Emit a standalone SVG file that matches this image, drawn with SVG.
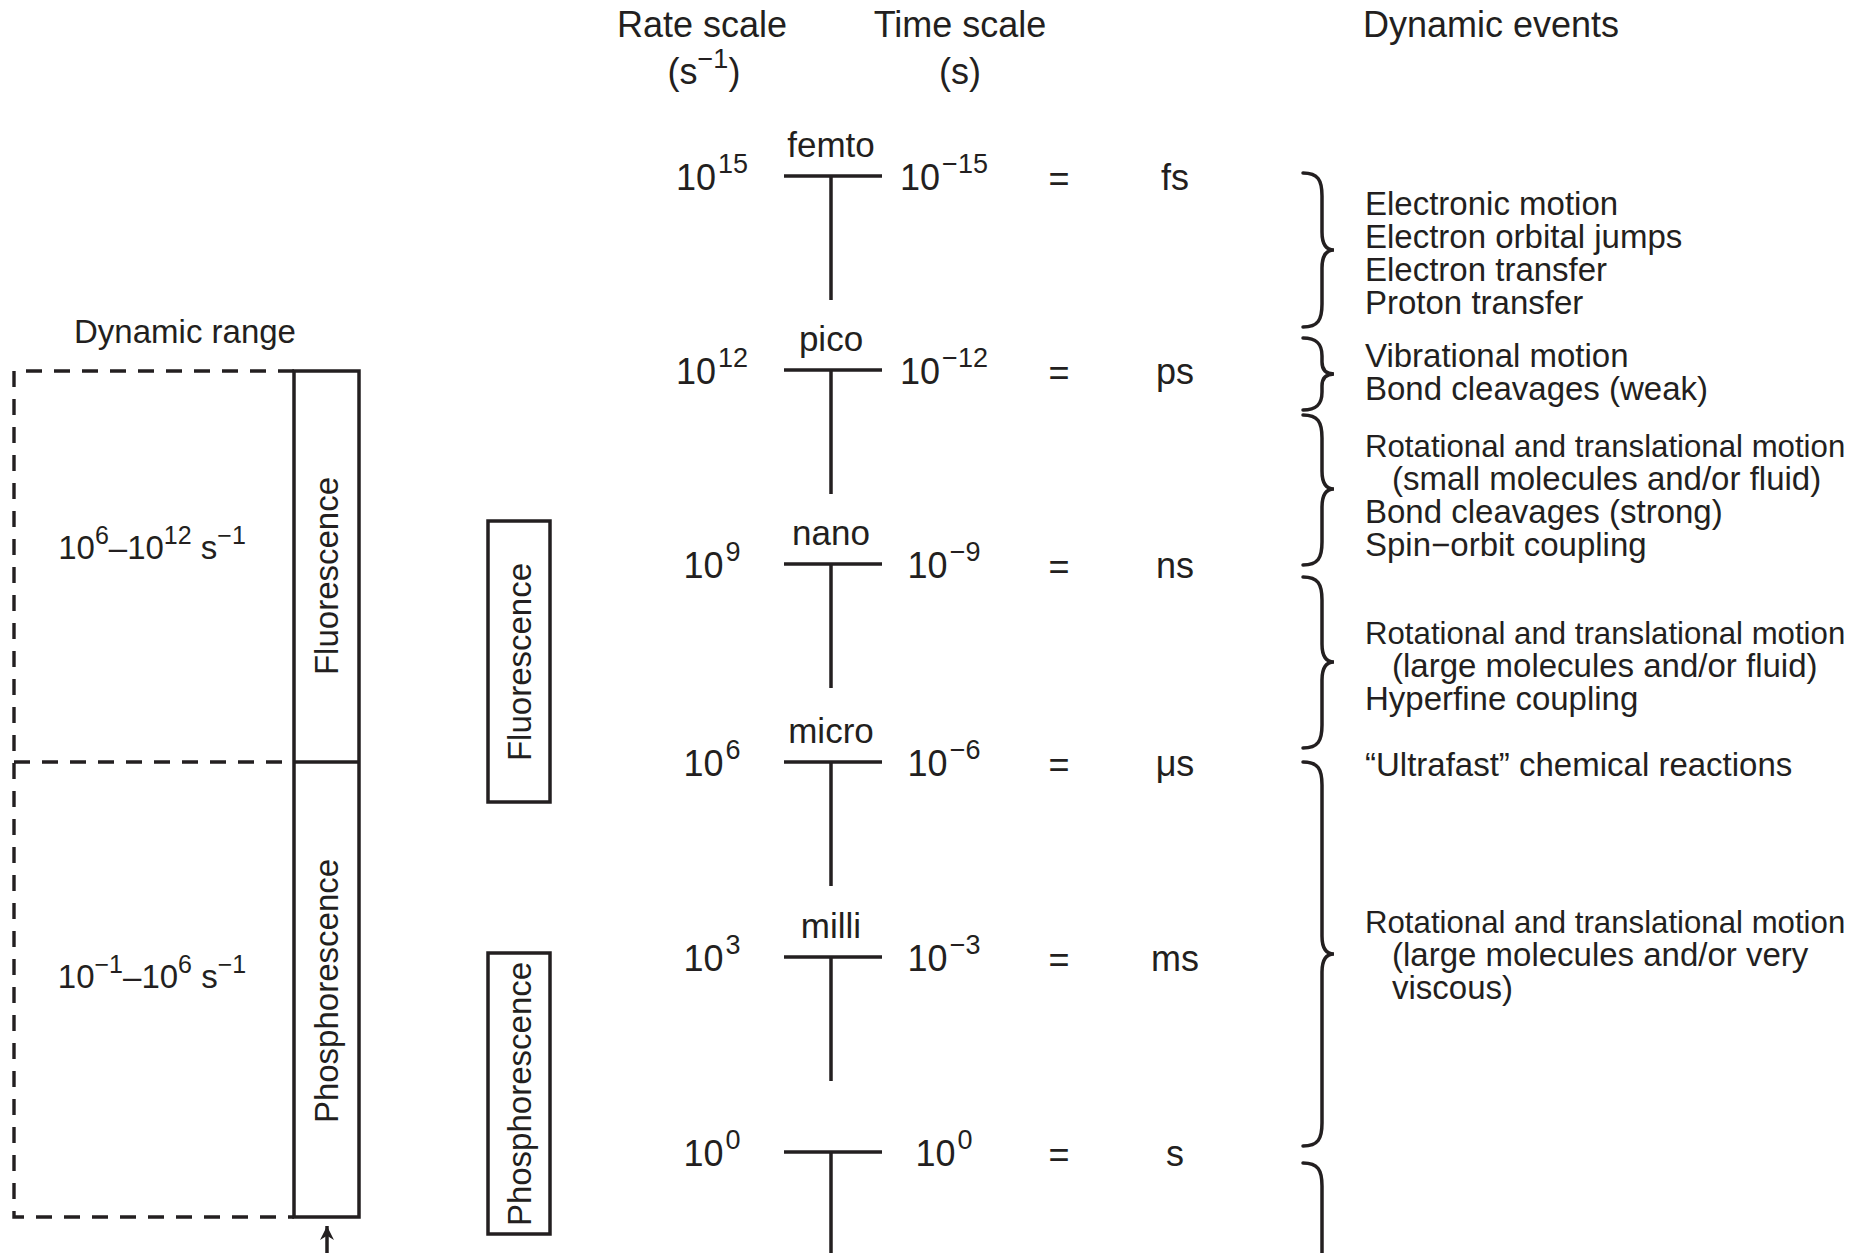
<svg xmlns="http://www.w3.org/2000/svg" width="1866" height="1253" viewBox="0 0 1866 1253">
  <style>
    text { font-family: "Liberation Sans", Arial, Helvetica, sans-serif; fill: #231f20; }
    .hdr { font-size: 36px; text-anchor: middle; }
    .num { font-size: 36px; text-anchor: middle; }
    .pre { font-size: 35px; text-anchor: middle; }
    .ev { font-size: 33px; }
    .ev-long { font-size: 31.2px; }
    .lbl { font-size: 33px; text-anchor: middle; }
    .sup { font-size: 27px; }
    .sup2 { font-size: 25px; }
    .ln { stroke: #231f20; stroke-width: 3.5; fill: none; stroke-linecap: butt; }
    .dash { stroke: #231f20; stroke-width: 3.4; fill: none; stroke-dasharray: 16 12; }
    .box { stroke: #231f20; stroke-width: 3.5; fill: none; }
    .brace { stroke: #231f20; stroke-width: 3.5; fill: none; stroke-linecap: round; }
  </style>
  <defs>
    <marker id="arrowhead" viewBox="0 0 10 10" refX="10" refY="5" markerWidth="14" markerHeight="14" markerUnits="userSpaceOnUse" orient="auto">
      <path d="M0,0 L10,5 L0,10 L3,5 z" fill="#231f20"/>
    </marker>
  </defs>
  <rect width="1866" height="1253" fill="#ffffff"/>

  <!-- column headers -->
  <g id="headers">
    <text class="hdr" x="702" y="37">Rate scale</text>
    <text class="hdr" x="704" y="84">(s<tspan class="sup" dy="-16">−1</tspan><tspan dy="16">)</tspan></text>
    <text class="hdr" x="960" y="37">Time scale</text>
    <text class="hdr" x="960" y="84">(s)</text>
    <text class="hdr" x="1491" y="37">Dynamic events</text>
  </g>

  <!-- timescale ladder: one tick per row -->
  <g id="scale-ticks">
    <g id="row-femto">
      <text class="pre" x="831" y="157">femto</text>
      <text class="num" x="712" y="190">10<tspan class="sup" dx="2" dy="-17">15</tspan></text>
      <text class="num" x="944" y="190">10<tspan class="sup" dx="2" dy="-17">−15</tspan></text>
      <text class="num" x="1059" y="191">=</text>
      <text class="num" x="1175" y="190">fs</text>
    </g>
    <g id="row-pico">
      <text class="pre" x="831" y="351">pico</text>
      <text class="num" x="712" y="384">10<tspan class="sup" dx="2" dy="-17">12</tspan></text>
      <text class="num" x="944" y="384">10<tspan class="sup" dx="2" dy="-17">−12</tspan></text>
      <text class="num" x="1059" y="385">=</text>
      <text class="num" x="1175" y="384">ps</text>
    </g>
    <g id="row-nano">
      <text class="pre" x="831" y="545">nano</text>
      <text class="num" x="712" y="578">10<tspan class="sup" dx="2" dy="-17">9</tspan></text>
      <text class="num" x="944" y="578">10<tspan class="sup" dx="2" dy="-17">−9</tspan></text>
      <text class="num" x="1059" y="579">=</text>
      <text class="num" x="1175" y="578">ns</text>
    </g>
    <g id="row-micro">
      <text class="pre" x="831" y="743">micro</text>
      <text class="num" x="712" y="776">10<tspan class="sup" dx="2" dy="-17">6</tspan></text>
      <text class="num" x="944" y="776">10<tspan class="sup" dx="2" dy="-17">−6</tspan></text>
      <text class="num" x="1059" y="777">=</text>
      <text class="num" x="1175" y="776">μs</text>
    </g>
    <g id="row-milli">
      <text class="pre" x="831" y="938">milli</text>
      <text class="num" x="712" y="971">10<tspan class="sup" dx="2" dy="-17">3</tspan></text>
      <text class="num" x="944" y="971">10<tspan class="sup" dx="2" dy="-17">−3</tspan></text>
      <text class="num" x="1059" y="972">=</text>
      <text class="num" x="1175" y="971">ms</text>
    </g>
    <g id="row-sec">
      <text class="num" x="712" y="1166">10<tspan class="sup" dx="2" dy="-17">0</tspan></text>
      <text class="num" x="944" y="1166">10<tspan class="sup" dx="2" dy="-17">0</tspan></text>
      <text class="num" x="1059" y="1167">=</text>
      <text class="num" x="1175" y="1166">s</text>
    </g>
  </g>

  <!-- T-shaped tick marks -->
  <g id="connectors">
    <path class="ln" d="M784 176 H882 M831 176 V300"/>
    <path class="ln" d="M784 370 H882 M831 370 V494"/>
    <path class="ln" d="M784 564 H882 M831 564 V688"/>
    <path class="ln" d="M784 762 H882 M831 762 V886"/>
    <path class="ln" d="M784 957 H882 M831 957 V1081"/>
    <path class="ln" d="M784 1152 H882 M831 1152 V1253"/>
    <!-- arrow under the dynamic range bar -->
    <line class="ln" x1="327" y1="1253" x2="327" y2="1226" marker-end="url(#arrowhead)"/>
  </g>

  <!-- braces grouping the dynamic events -->
  <g id="braces">
    <path class="brace" d="M1303 173 C1318 173 1322 180 1322 196 V232 C1322 244 1326 250 1334 250 C1326 250 1322 256 1322 268 V304 C1322 320 1318 327 1303 327"/>
    <path class="brace" d="M1303 338 C1317 338 1322 344 1322 356 V362 C1322 370 1326 374 1334 374 C1326 374 1322 378 1322 386 V392 C1322 404 1317 410 1303 410"/>
    <path class="brace" d="M1303 415 C1318 415 1322 422 1322 438 V471 C1322 483 1326 489 1334 489 C1326 489 1322 495 1322 507 V542 C1322 558 1318 565 1303 565"/>
    <path class="brace" d="M1303 577 C1318 577 1322 584 1322 600 V644 C1322 656 1326 662 1334 662 C1326 662 1322 668 1322 680 V725 C1322 741 1318 748 1303 748"/>
    <path class="brace" d="M1303 762 C1318 762 1322 769 1322 785 V936 C1322 948 1326 954 1334 954 C1326 954 1322 960 1322 972 V1123 C1322 1139 1318 1146 1303 1146"/>
    <path class="brace" d="M1303 1163 C1318 1163 1322 1170 1322 1186 V1260"/>
  </g>

  <!-- dynamic event descriptions -->
  <g id="events">
    <text class="ev" x="1365" y="215">Electronic motion</text>
    <text class="ev" x="1365" y="248">Electron orbital jumps</text>
    <text class="ev" x="1365" y="281">Electron transfer</text>
    <text class="ev" x="1365" y="314">Proton transfer</text>
    <text class="ev" x="1365" y="367">Vibrational motion</text>
    <text class="ev" x="1365" y="400">Bond cleavages (weak)</text>
    <text class="ev-long" x="1365" y="457">Rotational and translational motion</text>
    <text class="ev" x="1392" y="490">(small molecules and/or fluid)</text>
    <text class="ev" x="1365" y="523">Bond cleavages (strong)</text>
    <text class="ev" x="1365" y="556">Spin−orbit coupling</text>
    <text class="ev-long" x="1365" y="644">Rotational and translational motion</text>
    <text class="ev" x="1392" y="677">(large molecules and/or fluid)</text>
    <text class="ev" x="1365" y="710">Hyperfine coupling</text>
    <text class="ev" x="1365" y="776">“Ultrafast” chemical reactions</text>
    <text class="ev-long" x="1365" y="933">Rotational and translational motion</text>
    <text class="ev" x="1392" y="966">(large molecules and/or very</text>
    <text class="ev" x="1392" y="999">viscous)</text>
  </g>

  <!-- dynamic range panel -->
  <g id="dynamic-range">
    <text class="lbl" x="185" y="343">Dynamic range</text>
    <path class="dash" d="M294 371 H14 V1217 H294"/>
    <path class="dash" d="M14 762 H294"/>
    <rect class="box" x="294" y="371" width="65" height="846"/>
    <line class="ln" x1="294" y1="762" x2="359" y2="762"/>
    <text class="lbl" x="152" y="559">10<tspan class="sup2" dy="-15">6</tspan><tspan dy="15">–10</tspan><tspan class="sup2" dy="-15">12</tspan><tspan dy="15"> s</tspan><tspan class="sup2" dy="-15">−1</tspan></text>
    <text class="lbl" x="152" y="988">10<tspan class="sup2" dy="-15">−1</tspan><tspan dy="15">–10</tspan><tspan class="sup2" dy="-15">6</tspan><tspan dy="15"> s</tspan><tspan class="sup2" dy="-15">−1</tspan></text>
    <text class="lbl" transform="translate(338 576) rotate(-90)">Fluorescence</text>
    <text class="lbl" transform="translate(338 991) rotate(-90)">Phosphorescence</text>
  </g>

  <!-- emission windows -->
  <g id="fluorescence-box">
    <rect class="box" x="488" y="521" width="62" height="281"/>
    <text class="lbl" transform="translate(531 662) rotate(-90)">Fluorescence</text>
  </g>
  <g id="phosphorescence-box">
    <rect class="box" x="488" y="953" width="62" height="281"/>
    <text class="lbl" transform="translate(531 1094) rotate(-90)">Phosphorescence</text>
  </g>
</svg>
